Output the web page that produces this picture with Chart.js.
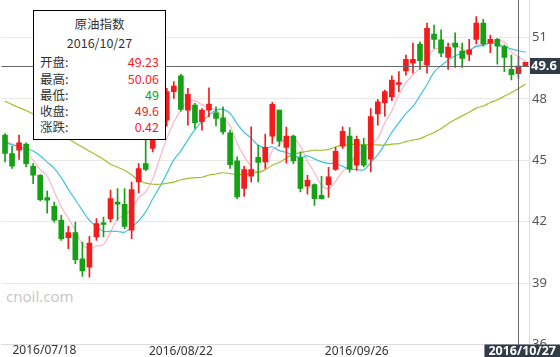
<!DOCTYPE html>
<html><head><meta charset="utf-8">
<script src="https://cdn.jsdelivr.net/npm/chart.js@4.4.1/dist/chart.umd.min.js"></script>
<style>
html,body{margin:0;padding:0;background:#fff;}
#wrap{position:relative;width:560px;height:357px;overflow:hidden;}
#c{position:absolute;left:0;top:0;}
#wm{position:absolute;left:6px;top:286px;font:15px 'Noto Sans',sans-serif;color:#c8c8c8;}
#tip{position:absolute;left:33px;top:10px;width:131px;height:128px;border:1px solid #000;background:#fff;font-family:'Noto Sans CJK SC',sans-serif;font-size:12.5px;color:#333;}
#tip div{position:absolute;line-height:16px;white-space:nowrap;}
#tip .c{left:0;right:0;text-align:center;}
#tip .l{left:6px;}
#tip .v{right:6px;text-align:right;}
</style></head><body>
<div id="wrap"><div id="wm">cnoil.com</div><canvas id="c" width="560" height="357"></canvas><div id="tip"></div></div>
<script>
const dates = [
'2016/07/18','2016/07/19','2016/07/20','2016/07/21','2016/07/22',
'2016/07/25','2016/07/26','2016/07/27','2016/07/28','2016/07/29',
'2016/08/01','2016/08/02','2016/08/03','2016/08/04','2016/08/05',
'2016/08/08','2016/08/09','2016/08/10','2016/08/11','2016/08/12',
'2016/08/15','2016/08/16','2016/08/17','2016/08/18','2016/08/19',
'2016/08/22','2016/08/23','2016/08/24','2016/08/25','2016/08/26',
'2016/08/29','2016/08/30','2016/08/31','2016/09/01','2016/09/02',
'2016/09/05','2016/09/06','2016/09/07','2016/09/08','2016/09/09',
'2016/09/12','2016/09/13','2016/09/14','2016/09/15','2016/09/16',
'2016/09/19','2016/09/20','2016/09/21','2016/09/22','2016/09/23',
'2016/09/26','2016/09/27','2016/09/28','2016/09/29','2016/09/30',
'2016/10/03','2016/10/04','2016/10/05','2016/10/06','2016/10/07',
'2016/10/10','2016/10/11','2016/10/12','2016/10/13','2016/10/14',
'2016/10/17','2016/10/18','2016/10/19','2016/10/20','2016/10/21',
'2016/10/24','2016/10/25','2016/10/26','2016/10/27','2016/10/28'];

const opens = [46.23,45.33,45.49,45.79,44.71,44.27,43.18,42.75,42.07,41.22,
41.47,40.19,39.78,41.25,41.95,42.15,42.96,42.85,41.58,43.94,
44.84,45.58,46.20,46.96,48.35,49.12,47.45,47.70,46.88,47.45,
47.32,47.07,46.34,44.97,43.62,44.22,45.14,44.92,46.18,47.45,
45.63,46.18,45.13,43.73,43.81,43.29,43.81,44.55,45.69,46.18,
44.76,45.74,45.06,47.26,47.81,48.10,48.71,49.36,49.74,50.68,
49.65,51.17,50.88,50.03,50.72,50.34,50.17,50.90,51.70,50.72,
50.91,50.55,49.44,49.23,49.62];
const highs = [46.30,45.69,46.23,45.85,44.84,44.30,43.50,42.96,42.31,41.77,
41.98,41.00,41.28,42.15,42.23,43.54,43.62,43.62,43.94,44.84,
46.02,46.23,47.00,48.51,48.84,49.20,48.51,47.78,47.53,48.54,
47.61,47.61,46.47,45.17,44.71,46.63,45.74,46.28,47.83,47.45,
46.62,46.23,45.41,44.27,43.85,44.22,44.65,45.63,46.63,46.60,
46.18,46.07,47.53,47.98,48.43,49.12,49.33,50.14,50.72,50.79,
51.70,51.61,51.37,50.72,51.23,50.72,50.91,52.02,51.89,51.12,
50.96,50.63,50.14,50.06,49.80];
const lows = [44.92,44.60,45.04,44.68,43.86,43.01,42.42,41.98,41.09,40.68,
39.95,39.33,39.29,41.09,41.25,41.98,42.07,41.66,41.17,43.40,
44.48,45.41,46.10,46.67,48.02,47.40,46.72,46.56,46.47,47.12,
46.68,46.28,44.60,43.13,43.24,43.94,43.94,44.60,45.82,45.69,
44.86,44.84,43.45,43.34,42.80,43.10,43.18,44.51,45.58,44.42,
44.51,44.68,44.43,46.72,47.16,47.91,48.35,49.16,49.25,49.44,
49.25,50.47,50.06,49.44,49.54,49.54,49.86,50.68,50.58,50.26,
49.70,49.33,48.92,49.00,49.60];
const closes = [45.33,44.71,45.85,44.84,44.27,43.08,43.05,42.07,41.17,41.47,
40.14,39.59,40.96,41.91,41.87,43.13,42.85,41.77,43.57,44.60,
44.55,45.98,46.80,48.35,48.63,47.49,48.22,46.83,47.45,47.74,
47.04,46.39,44.79,43.21,44.55,44.55,44.89,45.63,47.73,45.93,
46.18,44.97,43.63,44.02,43.13,43.13,44.19,45.44,46.42,44.56,
46.02,44.76,47.14,47.86,48.35,48.92,48.79,49.93,49.93,49.86,
51.45,50.91,50.23,50.52,50.52,49.98,50.39,51.70,50.68,50.91,
50.57,50.03,49.18,49.60,49.79];

const ma5 = [45.95,45.80,45.65,45.40,45.00,44.55,44.22,43.46,42.73,42.17,
41.58,40.89,40.67,40.81,40.89,41.49,42.14,42.31,42.64,43.18,
43.47,44.09,45.10,46.06,46.86,47.45,47.90,47.90,47.72,47.55,
47.46,47.09,46.68,45.83,45.20,44.70,44.40,44.57,45.47,45.75,
46.07,46.09,45.69,44.95,44.39,43.78,43.62,43.98,44.46,44.75,
45.33,45.44,45.78,46.07,46.83,47.41,48.21,48.77,49.18,49.49,
49.99,50.42,50.48,50.59,50.73,50.43,50.33,50.62,50.65,50.73,
50.85,50.78,50.28,50.06,49.84];
const ma10 = [45.88,45.76,45.65,45.57,45.45,45.22,44.91,44.60,44.15,43.58,
43.07,42.55,42.06,41.77,41.53,41.54,41.52,41.49,41.73,42.04,
42.48,43.12,43.70,44.35,45.02,45.46,46.00,46.50,46.89,47.20,
47.45,47.49,47.29,46.78,46.37,46.08,45.74,45.62,45.65,45.47,
45.39,45.24,45.13,45.21,45.07,44.92,44.85,44.84,44.70,44.57,
44.55,44.53,44.88,45.27,45.79,46.37,46.83,47.28,47.63,48.16,
48.70,49.31,49.62,49.89,50.11,50.21,50.37,50.55,50.62,50.73,
50.64,50.55,50.44,50.35,50.28];
const ma30 = [47.89,47.72,47.57,47.43,47.26,47.06,46.84,46.62,46.37,46.08,
45.84,45.64,45.44,45.25,45.05,44.81,44.66,44.51,44.29,44.02,
43.88,43.83,43.83,43.88,43.93,44.05,44.12,44.15,44.17,44.28,
44.33,44.39,44.35,44.30,44.31,44.36,44.42,44.54,44.76,44.90,
45.11,45.29,45.37,45.44,45.49,45.49,45.53,45.65,45.75,45.75,
45.80,45.76,45.77,45.75,45.74,45.79,45.81,45.91,45.99,46.06,
46.21,46.36,46.54,46.79,46.99,47.17,47.35,47.55,47.65,47.82,
47.96,48.13,48.31,48.51,48.73];

const xTickLabels = ['2016/07/18','2016/08/22','2016/09/26'];
const yTicks = [36,39,42,45,48,51];
const seriesName = '原油指数';
const tipDate = '2016/10/27';
const tipFields = ['开盘:','最高:','最低:','收盘:','涨跌:'];

const UP = '#f21c1c', DOWN = '#15a015';
const colorAt = i => closes[i] >= opens[i] ? UP : DOWN;
const ti = dates.indexOf(tipDate);
const gridIdx = xTickLabels.map(d => dates.indexOf(d));

// tooltip box (HTML text)
(function(){
  const tip = document.getElementById('tip');
  const prev = closes[ti-1];
  const vals = [opens[ti], highs[ti], lows[ti], closes[ti]];
  const chg = closes[ti] - prev;
  const rows = vals.map((v,k)=>({label: tipFields[k], text: String(+v.toFixed(2)), color: v >= prev ? '#f41d1d' : '#1a9e1a'}));
  rows.push({label: tipFields[4], text: chg.toFixed(2), color: chg >= 0 ? '#f41d1d' : '#1a9e1a'});
  let html = '<div class="c" style="top:5px">'+seriesName+'</div><div class="c" style="top:24px">'+tipDate+'</div>';
  const tops = [43,60,76,92,108];
  rows.forEach((r,k)=>{
    html += '<div class="l" style="top:'+tops[k]+'px">'+r.label+'</div>';
    html += '<div class="v" style="top:'+tops[k]+'px;color:'+r.color+'">'+r.text+'</div>';
  });
  tip.innerHTML = html;
})();

const crosshair = {
  id: 'crosshair',
  afterDatasetsDraw(chart){
    const {ctx, chartArea: a, scales: {x, y}} = chart;
    const px = Math.round(x.getPixelForValue(ti)) + 0.5;
    const py = Math.round(y.getPixelForValue(closes[ti])) + 0.5;
    ctx.save();
    ctx.strokeStyle = '#666';
    ctx.lineWidth = 1;
    ctx.beginPath();
    ctx.moveTo(a.left, py); ctx.lineTo(a.right, py);
    ctx.moveTo(px, a.top); ctx.lineTo(px, a.bottom);
    ctx.stroke();
    ctx.restore();
  },
  afterDraw(chart){
    const {ctx, chartArea: a, scales: {x, y}} = chart;
    ctx.save();
    // first date label, kept inside the chart
    ctx.font = '12px "Noto Sans", sans-serif';
    ctx.fillStyle = '#333';
    ctx.textAlign = 'left';
    ctx.textBaseline = 'middle';
    ctx.fillText(xTickLabels[0], a.left + 11, x.top + 6.5);
    // y crosshair label
    const py = y.getPixelForValue(closes[ti]);
    ctx.fillStyle = '#323b48';
    ctx.fillRect(a.right + 1, Math.round(py) - 8, chart.width - a.right - 1, 16);
    ctx.fillStyle = '#fff';
    ctx.font = 'bold 13px "Noto Sans", sans-serif';
    ctx.fillText(String(+closes[ti].toFixed(2)), a.right + 2, Math.round(py) + 0.5);
    // x crosshair label
    ctx.font = 'bold 12.5px "Noto Sans", sans-serif';
    const w = ctx.measureText(tipDate).width + 8;
    ctx.fillStyle = '#323b48';
    ctx.fillRect(chart.width - w, a.bottom, w, chart.height - a.bottom);
    ctx.fillStyle = '#fff';
    ctx.textAlign = 'center';
    ctx.fillText(tipDate, chart.width - w/2, a.bottom + 6.5);
    ctx.restore();
  }
};

const lineDs = (data, color) => ({
  type: 'line', data, borderColor: color, borderWidth: 1.2, pointRadius: 0,
  tension: 0.35, fill: false, order: 5
});

new Chart(document.getElementById('c'), {
  data: {
    labels: dates,
    datasets: [
      lineDs(ma30, '#9dc22c'),
      lineDs(ma10, '#3cc3e4'),
      lineDs(ma5, '#ffb4c8'),
      { type: 'bar', data: dates.map((d,i)=>[lows[i], highs[i]]),
        backgroundColor: ctx => colorAt(ctx.dataIndex), barThickness: 1, grouped: false, order: 2 },
      { type: 'bar', data: dates.map((d,i)=>[opens[i], closes[i]]),
        backgroundColor: ctx => colorAt(ctx.dataIndex), barThickness: 5, minBarLength: 1.5, grouped: false, order: 1 }
    ]
  },
  options: {
    responsive: false, animation: false, devicePixelRatio: 1,
    layout: { padding: { left: 1.5, right: 0, top: 0, bottom: 0 } },
    plugins: { legend: { display: false }, tooltip: { enabled: false } },
    scales: {
      x: {
        type: 'category', offset: true,
        grid: { offset: true, drawTicks: false,
          color: ctx => gridIdx.includes(ctx.index) ? '#e6e6e6' : 'rgba(0,0,0,0)' },
        border: { display: true, color: '#dcdcdc' },
        ticks: { autoSkip: false, maxRotation: 0, padding: 0, color: '#333',
          font: { family: 'Noto Sans', size: 12 },
          callback: (v, i) => i === gridIdx[0] ? '' : (gridIdx.includes(i) ? dates[i] : null) },
        afterFit: s => { s.height = 12.5; s.paddingLeft = 0; s.paddingRight = 0; }
      },
      y: {
        position: 'right', min: 36, max: 52.83,
        afterBuildTicks: s => { s.ticks = yTicks.map(v => ({ value: v })); },
        grid: { color: '#e8e8e8', drawTicks: false },
        border: { display: true, color: '#dcdcdc' },
        ticks: { padding: 3, color: '#555', font: { family: 'Noto Sans', size: 13 } },
        afterFit: s => { s.width = 31; s.paddingTop = 0; s.paddingBottom = 0; }
      }
    }
  },
  plugins: [crosshair]
});
</script>
</body></html>
